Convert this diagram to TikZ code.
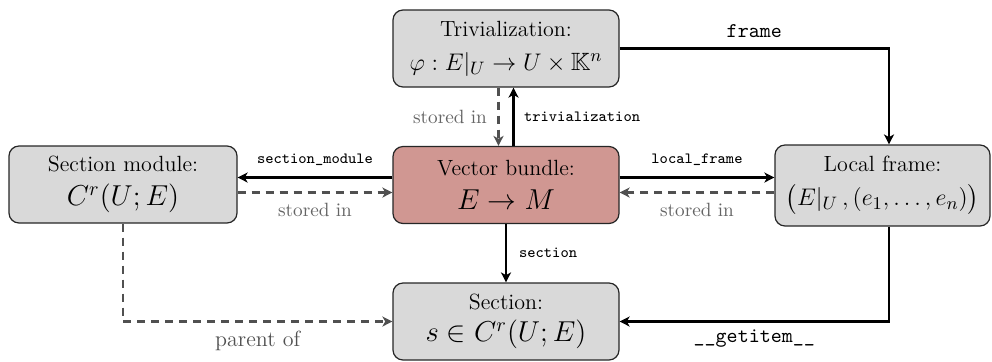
\documentclass[tikz,border=0pt]{standalone}
\usepackage{amsmath,amssymb}
\usetikzlibrary{arrows.meta,calc}
\definecolor{boxgray}{RGB}{217,217,217}
\definecolor{vbred}{RGB}{208,151,146}
\definecolor{dashgray}{RGB}{80,80,80}
\definecolor{labgray}{RGB}{100,100,100}
\begin{document}
\begin{tikzpicture}[x=0.5pt,y=-0.5pt,
  box/.style={draw=black!85, line width=0.6pt, rounded corners=5pt, fill=boxgray,
    align=center, minimum width=113pt, minimum height=38.5pt, inner sep=0pt,
    font=\fontsize{11}{13}\selectfont},
  solidarr/.style={line width=1.1pt, -{Stealth[length=5pt,width=5pt,inset=1.4pt]}},
  dasharr/.style={line width=1.1pt, draw=dashgray, dash pattern=on 4pt off 3pt,
    -{Stealth[length=5pt,width=5pt,inset=1.4pt]}},
  codelab/.style={font=\fontsize{7.8}{9}\ttfamily, inner sep=0pt},
  biglab/.style={font=\fontsize{10.5}{12}\ttfamily, inner sep=0pt},
  storedlab/.style={font=\fontsize{9.6}{11}\selectfont, text=labgray, inner sep=0pt},
  parentlab/.style={font=\fontsize{11}{13}\selectfont, text=dashgray, inner sep=0pt},
]
\useasboundingbox (0,0) rectangle (992,361);

\node[box] (triv) at (506,48.5) {Trivialization:\\[4pt]{\fontsize{12.5}{14}\selectfont$\varphi : E|_U \to U\times\mathbb{K}^n$}};
\node[box, fill=vbred] (vb) at (506,185) {Vector bundle:\\[4pt]{\Large$E\to M$}};
\node[box, minimum width=114pt] (sm) at (123,184.5) {Section module:\\[4pt]{\Large$C^r(U;E)$}};
\node[box, minimum width=107.5pt, minimum height=40.5pt] (lf) at (882.5,185.5) {Local frame:\\[4pt]{\fontsize{12.5}{14}\selectfont$\bigl(E|_U\,,(e_1,\dots,e_n)\bigr)$}};
\node[box] (sec) at (506,321.5) {Section:\\[3pt]{\Large$s\in C^r(U;E)$}};

% vertical between triv and vb
\coordinate (vbN1) at ([xshift=3.75pt]vb.north);
\draw[solidarr] (vbN1) -- (vbN1 |- triv.south)
  node[midway, codelab, anchor=west, xshift=4.75pt] (ltriv) {trivialization};
\coordinate (trS1) at ([xshift=-3.75pt]triv.south);
\draw[dasharr] (trS1) -- (trS1 |- vb.north)
  node[midway, storedlab, anchor=east, xshift=-5.25pt] (lst1) {stored in};

% vb <-> section module
\coordinate (vbW1) at ([yshift=3.75pt]vb.west);
\draw[solidarr] (vbW1) -- (vbW1 -| sm.east)
  node[midway, codelab, yshift=9pt] (lsm) {section\_module};
\coordinate (vbW2) at ([yshift=-3.75pt]vb.west);
\draw[dasharr] (vbW2 -| sm.east) -- (vbW2)
  node[midway, storedlab, yshift=-8.8pt] (lst2) {stored in};

% vb <-> local frame
\coordinate (vbE1) at ([yshift=3.75pt]vb.east);
\draw[solidarr] (vbE1) -- (vbE1 -| lf.west)
  node[midway, codelab, yshift=8.7pt] (llf) {local\_frame};
\coordinate (vbE2) at ([yshift=-3.75pt]vb.east);
\draw[dasharr] (vbE2 -| lf.west) -- (vbE2)
  node[midway, storedlab, yshift=-8.6pt] (lst3) {stored in};

% section
\draw[solidarr] (vb.south) -- (sec.north)
  node[midway, codelab, anchor=west, xshift=6pt] (lsec) {section};

% frame
\coordinate (lfN) at ([xshift=3.25pt]lf.north);
\draw[solidarr] (triv.east) -| (lfN)
  node[pos=0.25, biglab, yshift=8.5pt] (lfr) {frame};

% getitem
\coordinate (lfS) at ([xshift=3.25pt]lf.south);
\draw[solidarr] (lfS) |- (sec.east)
  node[pos=0.75, biglab, yshift=-8.6pt] (lgi) {\_\_getitem\_\_};

% parent of
\draw[dasharr] (sm.south) |- (sec.west)
  node[pos=0.75, parentlab, yshift=-9.5pt] (lpar) {parent of};
\end{tikzpicture}
\end{document}
